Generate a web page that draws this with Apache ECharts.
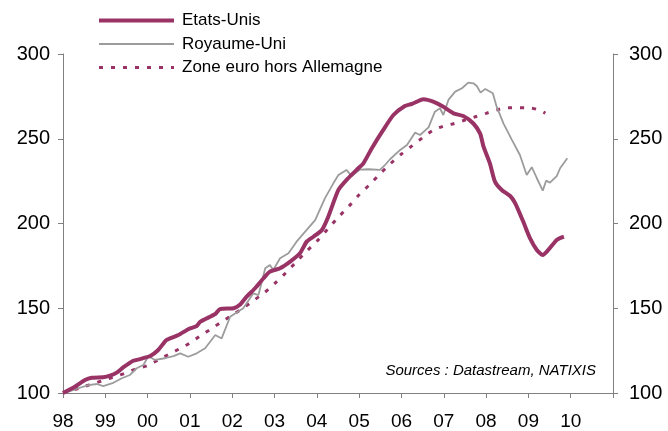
<!DOCTYPE html>
<html>
<head>
<meta charset="utf-8">
<script src="https://cdn.jsdelivr.net/npm/echarts@6/dist/echarts.min.js"></script>
<style>
  html, body { margin: 0; padding: 0; background: #fff; }
  #chart { width: 668px; height: 431px; }
</style>
</head>
<body>
<div id="chart"></div>
<script>
// x = fractional year, y = index (1998 = 100)
var usDates = [1998.0, 1998.28, 1998.52, 1998.68, 1998.95, 1999.11, 1999.27, 1999.43, 1999.66, 1999.82,
  2000.06, 2000.25, 2000.45, 2000.73, 2000.96, 2001.16, 2001.24, 2001.6, 2001.71, 2002.03,
  2002.18, 2002.34, 2002.54, 2002.74, 2002.89, 2003.13, 2003.37, 2003.6, 2003.76, 2003.92,
  2004.12, 2004.27, 2004.51, 2004.74, 2004.98, 2005.1, 2005.3, 2005.57, 2005.81, 2006.08,
  2006.24, 2006.52, 2006.75, 2006.99, 2007.23, 2007.46, 2007.7, 2007.86, 2007.94, 2008.09,
  2008.21, 2008.37, 2008.57, 2008.69, 2008.88, 2009.04, 2009.2, 2009.34, 2009.47, 2009.67, 2009.84];
var usValues = [100, 103.7, 107.7, 109, 109.3, 110.2, 112, 115.2, 119, 120,
  121.8, 125.4, 131.3, 134.2, 137.6, 139.5, 142, 146.6, 149.5, 150,
  152, 156.8, 161.8, 167.7, 171.6, 173.6, 177.5, 182.4, 189.3, 192.2,
  196.2, 204, 219.8, 226.7, 232.6, 235.5, 244.4, 255.2, 264, 269.3,
  270.5, 273.3, 271.9, 268.9, 265, 263.4, 259, 253, 245.3, 235.5,
  224.7, 219.8, 216.2, 211.9, 201, 191.2, 184.4, 181.4, 184.4, 190.3, 192.2];

var ukDates = [1998.05, 1998.36, 1998.6, 1998.8, 1998.95, 1999.19, 1999.39, 1999.58, 1999.74, 1999.9,
  2000.02, 2000.17, 2000.41, 2000.61, 2000.77, 2000.96, 2001.16, 2001.36, 2001.6, 2001.75,
  2001.95, 2002.26, 2002.5, 2002.62, 2002.78, 2002.89, 2002.97, 2003.13, 2003.33, 2003.52,
  2003.76, 2003.96, 2004.19, 2004.39, 2004.51, 2004.7, 2004.82, 2005.02, 2005.22, 2005.49,
  2005.61, 2005.73, 2005.97, 2006.13, 2006.32, 2006.44, 2006.64, 2006.79, 2006.91, 2006.99,
  2007.11, 2007.27, 2007.43, 2007.58, 2007.7, 2007.78, 2007.87, 2007.98, 2008.16, 2008.25,
  2008.41, 2008.61, 2008.8, 2008.96, 2009.08, 2009.2, 2009.34, 2009.42, 2009.51, 2009.67,
  2009.75, 2009.92];
var ukValues = [100, 102.8, 104.7, 105.3, 104.1, 106, 108.7, 110.6, 114.6, 116.5,
  121.8, 119.5, 120.5, 121.8, 123.4, 121.4, 123.4, 126.4, 134.2, 132.2,
  145, 150, 158.8, 157.8, 173.6, 175.5, 172.6, 179.5, 182.4, 189.3,
  196.2, 202, 214.8, 223.7, 228.6, 231.6, 228, 231.8, 232, 231.6,
  234.5, 237.9, 243.4, 246.3, 253.6, 252.2, 256.7, 266, 268, 264,
  272.9, 277.8, 279.8, 283.1, 282.7, 281.1, 277.2, 279.4, 276.8, 268.9,
  259.1, 249.3, 240.4, 228.6, 233.2, 226.7, 219.4, 225.3, 224.1, 228,
  232.6, 238.5];

var ezDates = [1998.0, 1998.25, 1998.5, 1998.75, 1999.0, 1999.25, 1999.5, 1999.75, 2000.0, 2000.25,
  2000.5, 2000.75, 2001.0, 2001.25, 2001.5, 2001.75, 2002.0, 2002.25, 2002.5, 2002.75,
  2003.0, 2003.25, 2003.5, 2003.75, 2004.0, 2004.25, 2004.5, 2004.75, 2005.0, 2005.25,
  2005.5, 2005.75, 2006.0, 2006.25, 2006.5, 2006.75, 2007.0, 2007.25, 2007.5, 2007.75,
  2008.0, 2008.25, 2008.5, 2008.75, 2009.0, 2009.25, 2009.4];
var ezValues = [100, 101.8, 103.8, 105.8, 107.8, 109.8, 112, 114.5, 116.2, 119.5,
  122.8, 126, 129.5, 133.8, 137.8, 142, 146, 150, 154.5, 159,
  164.5, 170.5, 177, 183.5, 189.5, 196.5, 203.5, 210, 217, 223,
  229.5, 235.5, 241, 245.8, 250.6, 255, 257.5, 259, 261, 263,
  265, 267, 268.3, 268.3, 268.2, 267, 265];

var yTicks = [100, 150, 200, 250, 300];
var xYears = [1998, 2011];

function pairs(xs, ys) {
  return xs.map(function (x, i) { return [x, ys[i]]; });
}

var chart = echarts.init(document.getElementById('chart'));
var axisColor = '#808080';
var maroon = '#993366';
var grey = '#9c9c9c';
var font = 'Liberation Sans, Arial, sans-serif';

var yAxisBase = function (pos, margin) {
  return {
    type: 'value',
    position: pos,
    min: yTicks[0],
    max: yTicks[yTicks.length - 1],
    interval: 50,
    axisLine: { show: true, lineStyle: { color: axisColor, width: 1 } },
    axisTick: { show: true, length: 5, lineStyle: { color: axisColor } },
    axisLabel: { color: '#000', fontSize: 20, fontFamily: font, margin: margin },
    splitLine: { show: false }
  };
};

chart.setOption({
  animation: false,
  backgroundColor: '#fff',
  grid: { left: 63, right: 55, top: 54, bottom: 38 },
  legend: {
    orient: 'vertical',
    left: 97,
    top: 12,
    padding: 0,
    itemWidth: 75,
    itemHeight: 14,
    itemGap: 6.5,
    itemStyle: { opacity: 0 },
    textStyle: { color: '#000', fontSize: 17, fontFamily: font, padding: [0, 0, 0, 3] },
    data: [
      { name: 'Etats-Unis', lineStyle: { color: maroon, width: 4 } },
      { name: 'Royaume-Uni', lineStyle: { color: grey, width: 1.8 } },
      { name: 'Zone euro hors Allemagne', lineStyle: { color: maroon, width: 3, type: [4, 8] } }
    ]
  },
  xAxis: {
    type: 'value',
    min: xYears[0],
    max: xYears[1],
    interval: 1,
    axisLine: { show: true, onZero: false, lineStyle: { color: axisColor, width: 1 } },
    axisTick: { show: true, length: 5, lineStyle: { color: axisColor } },
    axisLabel: {
      color: '#000', fontSize: 19, fontFamily: font, margin: 19,
      formatter: function (v) {
        if (v >= xYears[1]) return '';
        var y = v % 100;
        return (y < 10 ? '0' : '') + y;
      }
    },
    splitLine: { show: false }
  },
  yAxis: [yAxisBase('left', 13), yAxisBase('right', 16)],
  graphic: [{
    type: 'text',
    right: 72,
    top: 363,
    style: {
      text: 'Sources : Datastream, NATIXIS',
      font: 'italic 15px Liberation Sans, Arial, sans-serif',
      fill: '#000'
    }
  }],
  series: [
    {
      name: 'Zone euro hors Allemagne',
      type: 'line',
      data: pairs(ezDates, ezValues),
      showSymbol: false,
      symbol: 'none',
      smooth: 0.3,
      color: maroon,
      lineStyle: { color: maroon, width: 3, type: [4, 8] },
      z: 2
    },
    {
      name: 'Royaume-Uni',
      type: 'line',
      data: pairs(ukDates, ukValues),
      showSymbol: false,
      symbol: 'none',
      color: grey,
      lineStyle: { color: grey, width: 1.8 },
      z: 3
    },
    {
      name: 'Etats-Unis',
      type: 'line',
      data: pairs(usDates, usValues),
      showSymbol: false,
      symbol: 'none',
      smooth: 0.2,
      color: maroon,
      lineStyle: { color: maroon, width: 4 },
      z: 4
    }
  ]
});
window.addEventListener('resize', function () { chart.resize(); });
</script>
</body>
</html>
